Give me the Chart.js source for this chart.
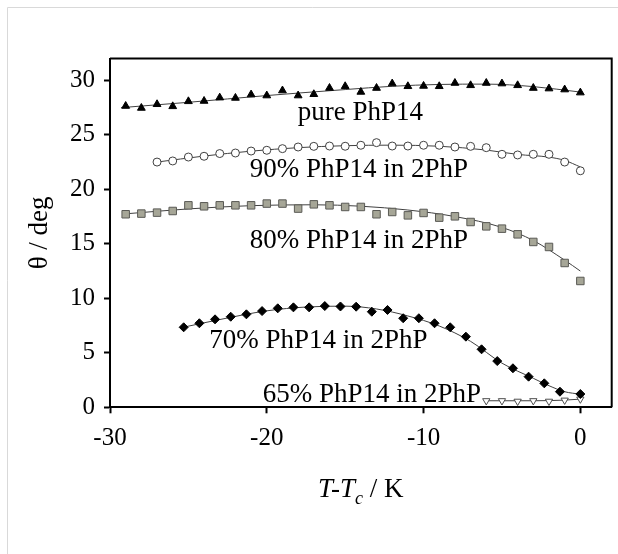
<!DOCTYPE html>
<html>
<head>
<meta charset="utf-8">
<script src="https://cdn.jsdelivr.net/npm/chart.js@4.4.0/dist/chart.umd.min.js"></script>
<style>
  html, body { margin: 0; padding: 0; background: #fff; }
  #wrap { position: relative; width: 618px; height: 554px; }
</style>
</head>
<body>
<div id="wrap"><canvas id="chart" width="618" height="554"></canvas></div>
<script>
// ---- axis ticks ----
const xTickValues = [-30, -20, -10, 0];
const yTickValues = [0, 5, 10, 15, 20, 25, 30];

// ---- pure PhP14 (filled triangles) ----
const pureX = [-29, -28, -27, -26, -25, -24, -23, -22, -21, -20, -19, -18, -17, -16, -15,
               -14, -13, -12, -11, -10, -9, -8, -7, -6, -5, -4, -3, -2, -1, 0];
const pureY = [27.64, 27.46, 27.80, 27.61, 28.07, 28.10, 28.41, 28.38, 28.69, 28.60, 29.06, 28.60, 28.72, 29.29, 29.45,
               28.93, 29.29, 29.70, 29.45, 29.48, 29.45, 29.75, 29.54, 29.75, 29.70, 29.54, 29.29, 29.24, 29.15, 28.87];
const pureFitX = [-29.3, -25, -20, -15, -12, -9, -6, -3, 0];
const pureFitY = [27.49, 27.98, 28.60, 29.15, 29.45, 29.62, 29.65, 29.42, 28.92];

// ---- 90% PhP14 in 2PhP (open circles) ----
const ninetyX = [-27, -26, -25, -24, -23, -22, -21, -20, -19, -18, -17, -16, -15, -14,
                 -13, -12, -11, -10, -9, -8, -7, -6, -5, -4, -3, -2, -1, 0];
const ninetyY = [22.50, 22.60, 22.96, 23.03, 23.28, 23.33, 23.51, 23.58, 23.73, 23.88, 23.94, 23.97, 23.95, 24.04,
                 24.28, 23.97, 23.97, 24.04, 24.04, 23.88, 23.94, 23.82, 23.21, 23.15, 23.21, 23.21, 22.50, 21.70];
const ninetyFitX = [-27, -24, -21, -18, -15, -12, -9, -6, -4, -2, -1, 0];
const ninetyFitY = [22.50, 23.05, 23.50, 23.82, 24.00, 24.05, 23.95, 23.60, 23.20, 22.95, 22.65, 22.05];

// ---- 80% PhP14 in 2PhP (grey squares) ----
const eightyX = [-29, -28, -27, -26, -25, -24, -23, -22, -21, -20, -19, -18, -17, -16, -15,
                 -14, -13, -12, -11, -10, -9, -8, -7, -6, -5, -4, -3, -2, -1, 0];
const eightyY = [17.71, 17.77, 17.86, 18.01, 18.53, 18.44, 18.53, 18.53, 18.53, 18.69, 18.69, 18.23, 18.62, 18.53, 18.38,
                 18.38, 17.71, 17.92, 17.61, 17.83, 17.40, 17.52, 17.00, 16.60, 16.39, 15.87, 15.17, 14.71, 13.24, 11.59];
const eightyFitX = [-29, -25, -21, -17, -14, -11, -8, -5, -3, -1, 0];
const eightyFitY = [17.75, 18.20, 18.50, 18.58, 18.45, 18.10, 17.50, 16.50, 15.30, 13.50, 12.50];

// ---- 70% PhP14 in 2PhP (black diamonds) ----
const seventyX = [-25.3, -24.3, -23.3, -22.3, -21.3, -20.3, -19.3, -18.3, -17.3, -16.3, -15.3,
                  -14.3, -13.3, -12.3, -11.3, -10.3, -9.3, -8.3, -7.3, -6.3, -5.3, -4.3, -3.3, -2.3, -1.3, 0];
const seventyY = [7.34, 7.71, 8.07, 8.31, 8.53, 8.83, 9.08, 9.17, 9.17, 9.29, 9.25,
                  9.23, 8.77, 8.93, 8.17, 8.17, 7.71, 7.34, 6.48, 5.32, 4.24, 3.58, 2.81, 2.20, 1.43, 1.22];
const seventyFitX = [-25.3, -23, -20, -17.5, -15, -13, -11, -9, -7, -5, -3, -2, -1, 0];
const seventyFitY = [7.35, 8.05, 8.85, 9.20, 9.28, 9.02, 8.38, 7.46, 6.05, 4.05, 2.66, 1.98, 1.43, 1.20];

// ---- 65% PhP14 in 2PhP (open down triangles) ----
const sixtyFiveX = [-6, -5, -4, -3, -2, -1, 0];
const sixtyFiveY = [0.60, 0.60, 0.55, 0.60, 0.55, 0.65, 0.75];
const sixtyFiveFitX = [-6, -3, -1, 0];
const sixtyFiveFitY = [0.60, 0.60, 0.66, 0.75];

// ---- in-plot labels (data coordinates, text centre / baseline) ----
const seriesLabels = [
  { text: 'pure PhP14', x: -14.03, y: 26.36 },
  { text: '90% PhP14 in 2PhP', x: -14.12, y: 21.13 },
  { text: '80% PhP14 in 2PhP', x: -14.12, y: 14.61 },
  { text: '70% PhP14 in 2PhP', x: -16.71, y: 5.44 },
  { text: '65% PhP14 in 2PhP', x: -13.30, y: 0.49 },
];

const SERIF = '"Liberation Serif", "Times New Roman", serif';

const toPoints = (xs, ys) => xs.map((x, i) => ({ x, y: ys[i] }));

function fitLine(xs, ys) {
  return {
    data: toPoints(xs, ys),
    showLine: true,
    borderColor: '#404040',
    borderWidth: 1,
    pointRadius: 0,
    cubicInterpolationMode: 'monotone',
    fill: false,
    order: 2,
  };
}

function markers(xs, ys, style) {
  return Object.assign({ data: toPoints(xs, ys), showLine: false, order: 1 }, style);
}

// frame, outer border, labels and axis titles
const decorations = {
  id: 'decorations',
  beforeDraw(chart) {
    const ctx = chart.ctx;
    ctx.save();
    ctx.strokeStyle = '#d9d9d9';
    ctx.lineWidth = 1;
    ctx.beginPath();
    ctx.moveTo(7.5, 554);
    ctx.lineTo(7.5, 7.5);
    ctx.lineTo(618, 7.5);
    ctx.stroke();
    ctx.restore();
  },
  afterDraw(chart) {
    const { ctx, chartArea: a, scales } = chart;
    ctx.save();
    // top and right frame lines
    ctx.strokeStyle = '#000';
    ctx.lineWidth = 2;
    ctx.beginPath();
    ctx.moveTo(a.left, a.top);
    ctx.lineTo(a.right, a.top);
    ctx.lineTo(a.right, a.bottom);
    ctx.stroke();

    // series labels
    ctx.fillStyle = '#000';
    ctx.font = `27px ${SERIF}`;
    ctx.textAlign = 'center';
    ctx.textBaseline = 'alphabetic';
    seriesLabels.forEach(l => {
      ctx.fillText(l.text, scales.x.getPixelForValue(l.x), scales.y.getPixelForValue(l.y));
    });

    // x axis title: T-Tc / K
    const parts = [
      { t: 'T-T', font: `italic 27px ${SERIF}`, dy: 0 },
      { t: 'c', font: `italic 18px ${SERIF}`, dy: 7 },
      { t: ' / K', font: `27px ${SERIF}`, dy: 0 },
    ];
    let total = 0;
    parts.forEach(p => { ctx.font = p.font; p.w = ctx.measureText(p.t).width; total += p.w; });
    let cx = (a.left + a.right) / 2 - total / 2;
    const base = 497;
    ctx.textAlign = 'left';
    parts.forEach(p => { ctx.font = p.font; ctx.fillText(p.t, cx, base + p.dy); cx += p.w; });

    // y axis title
    ctx.translate(40, (a.top + a.bottom) / 2);
    ctx.rotate(-Math.PI / 2);
    ctx.font = `27px ${SERIF}`;
    ctx.textAlign = 'center';
    ctx.textBaseline = 'middle';
    ctx.fillText('θ / deg', 0, 0);
    ctx.restore();
  }
};

new Chart(document.getElementById('chart'), {
  type: 'scatter',
  data: {
    datasets: [
      fitLine(pureFitX, pureFitY),
      fitLine(ninetyFitX, ninetyFitY),
      fitLine(eightyFitX, eightyFitY),
      fitLine(seventyFitX, seventyFitY),
      fitLine(sixtyFiveFitX, sixtyFiveFitY),
      markers(pureX, pureY, {
        pointStyle: 'triangle', pointRadius: 4.5,
        pointBackgroundColor: '#000', pointBorderColor: '#000', pointBorderWidth: 1,
      }),
      markers(ninetyX, ninetyY, {
        pointStyle: 'circle', pointRadius: 4,
        pointBackgroundColor: '#fff', pointBorderColor: '#404040', pointBorderWidth: 1,
      }),
      markers(eightyX, eightyY, {
        pointStyle: 'rect', pointRadius: 5.3,
        pointBackgroundColor: '#a6a697', pointBorderColor: '#5a5a55', pointBorderWidth: 1,
      }),
      markers(seventyX, seventyY, {
        pointStyle: 'rectRot', pointRadius: 4.5,
        pointBackgroundColor: '#000', pointBorderColor: '#000', pointBorderWidth: 1,
      }),
      markers(sixtyFiveX, sixtyFiveY, {
        pointStyle: 'triangle', rotation: 180, pointRadius: 4.2,
        pointBackgroundColor: '#fff', pointBorderColor: '#505050', pointBorderWidth: 1,
      }),
    ]
  },
  options: {
    responsive: false,
    animation: false,
    devicePixelRatio: 1,
    layout: { padding: { top: 58.5, right: 4.3, left: 0, bottom: 0 } },
    plugins: {
      legend: { display: false },
      tooltip: { enabled: false },
    },
    scales: {
      x: {
        type: 'linear',
        min: -30,
        max: 2,
        afterBuildTicks: (s) => { s.ticks = xTickValues.map(v => ({ value: v })); },
        afterFit: (s) => { s.height = 146.7; },
        grid: { drawOnChartArea: false, drawTicks: true, tickLength: 6, tickWidth: 2, tickColor: '#000' },
        border: { color: '#000', width: 2 },
        ticks: { color: '#000', font: { family: SERIF, size: 25 }, padding: 10, maxRotation: 0 },
      },
      y: {
        type: 'linear',
        min: 0,
        max: 32,
        afterBuildTicks: (s) => { s.ticks = yTickValues.map(v => ({ value: v })); },
        afterFit: (s) => { s.width = 110; },
        grid: { drawOnChartArea: false, drawTicks: true, tickLength: 6, tickWidth: 2, tickColor: '#000' },
        border: { color: '#000', width: 2 },
        ticks: { color: '#000', font: { family: SERIF, size: 25 }, padding: 9 },
      }
    }
  },
  plugins: [decorations]
});
</script>
</body>
</html>
